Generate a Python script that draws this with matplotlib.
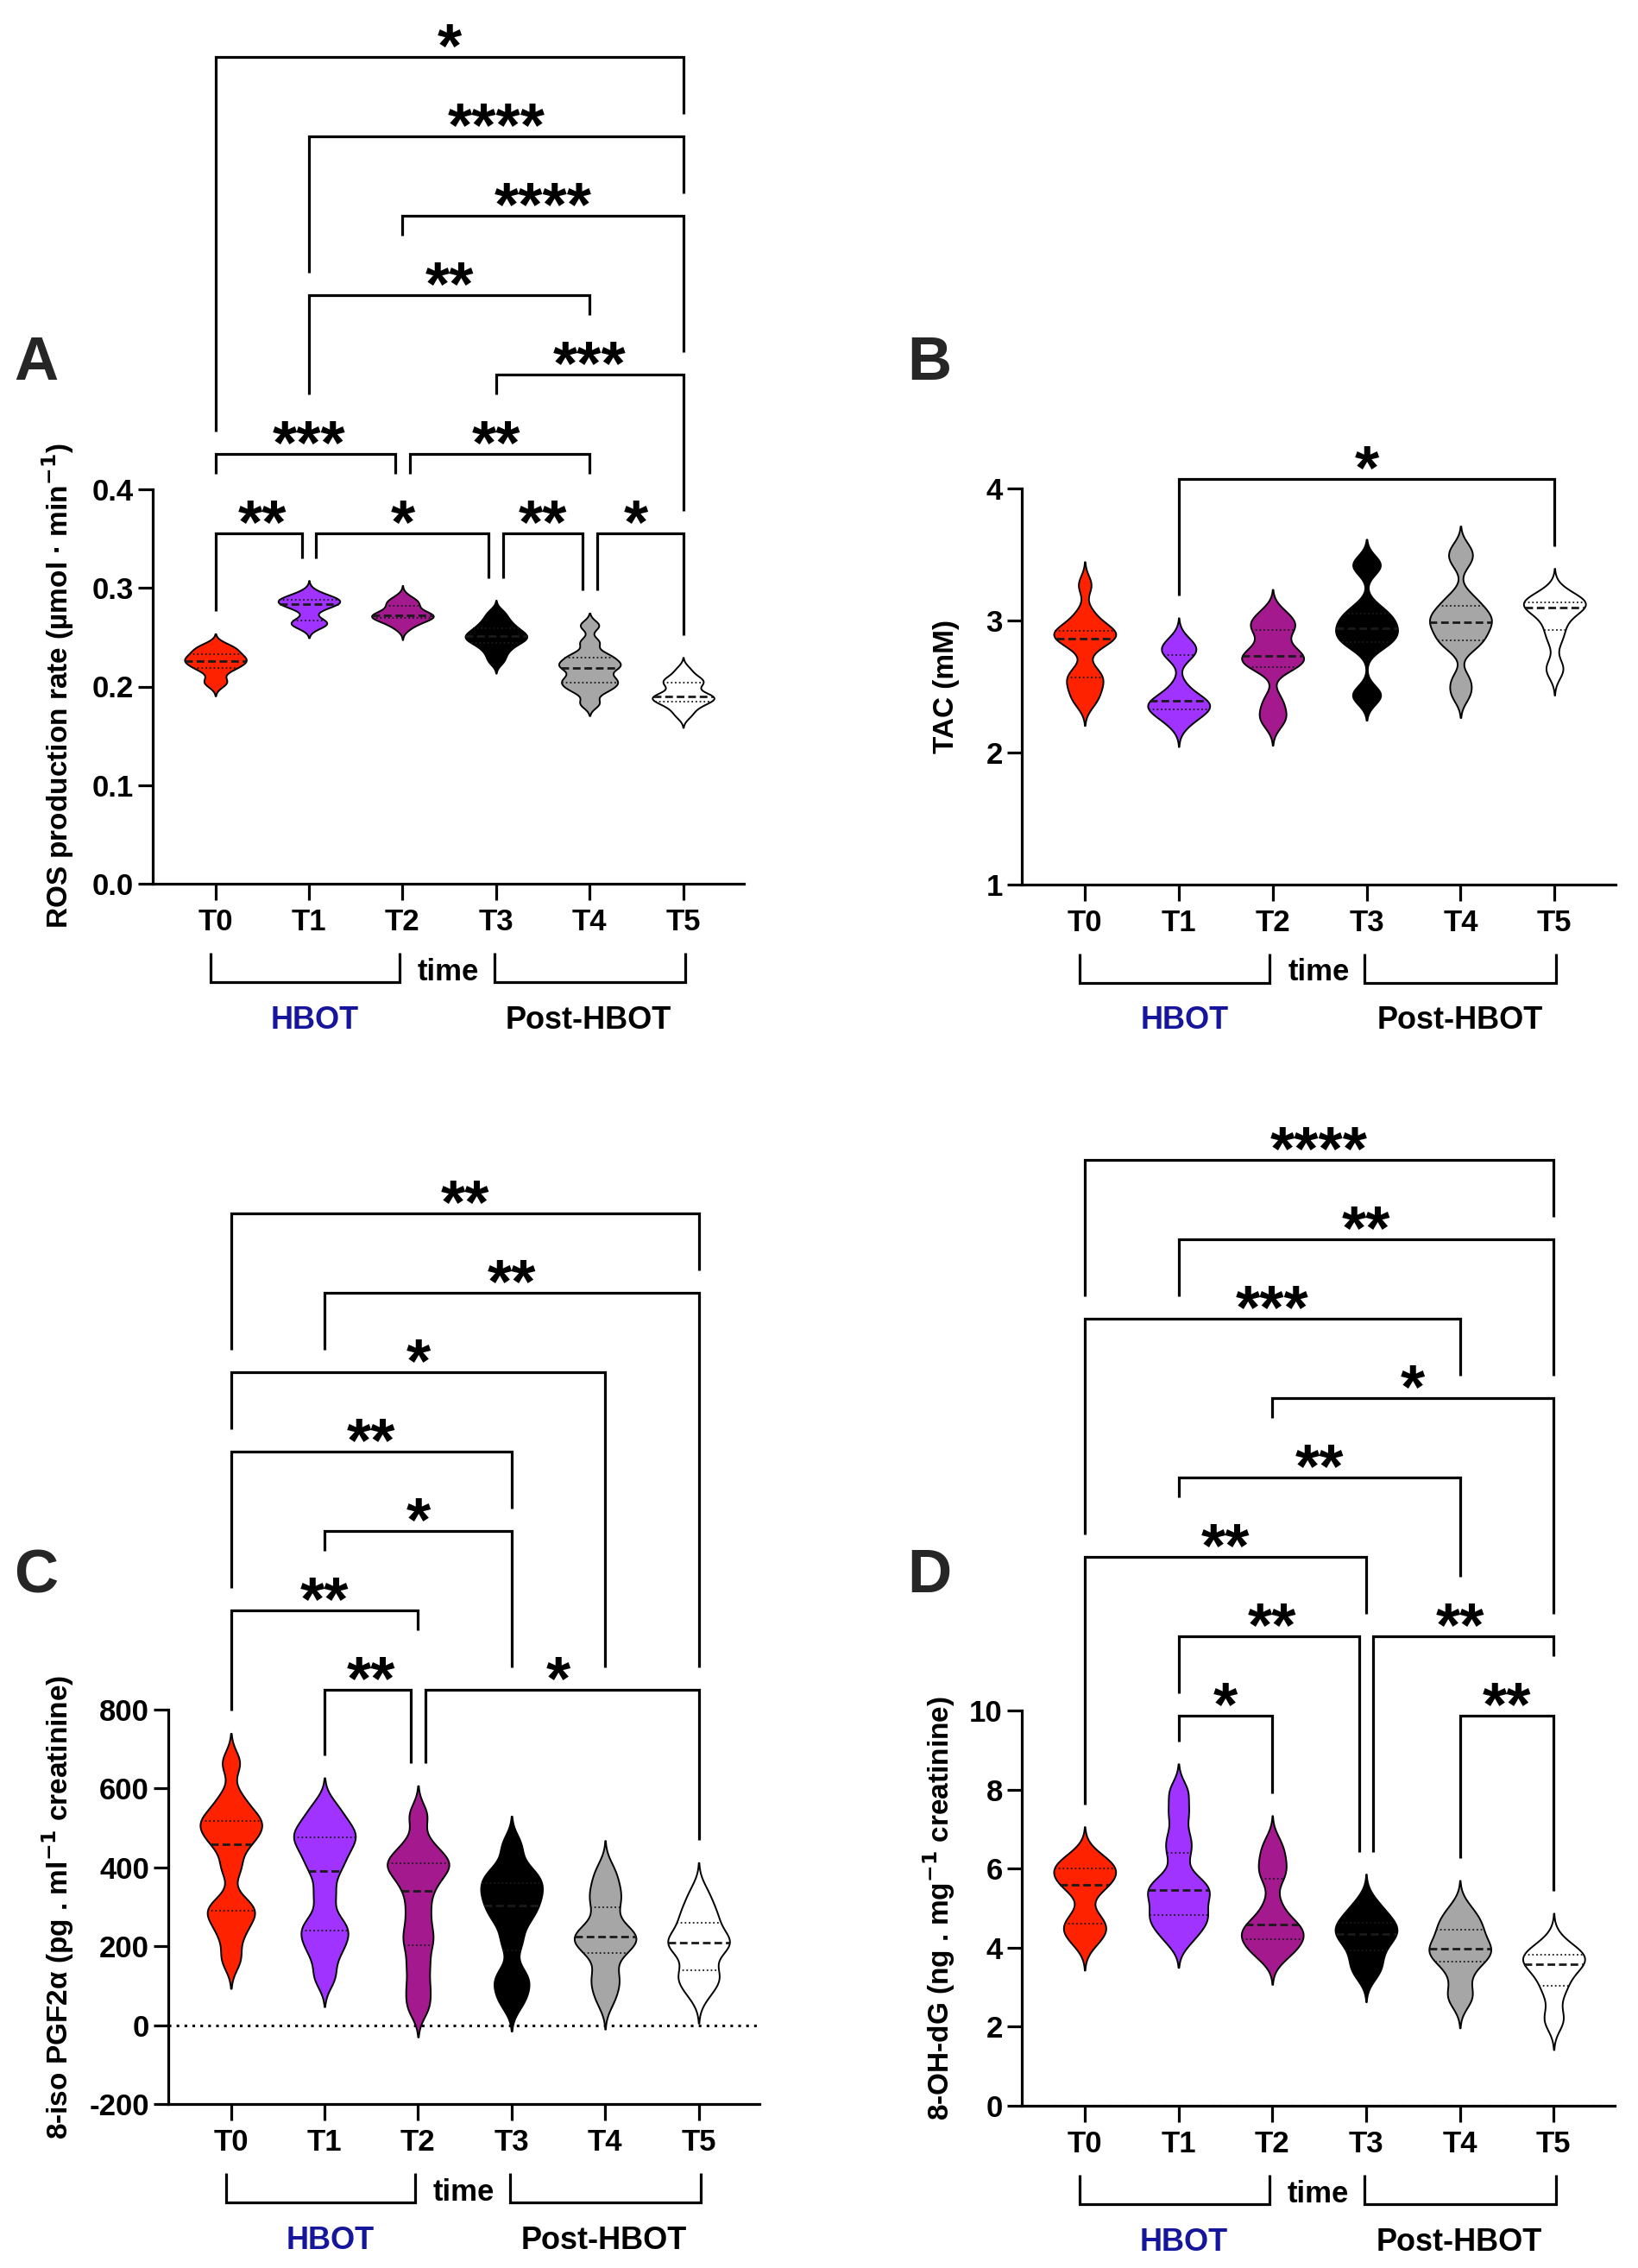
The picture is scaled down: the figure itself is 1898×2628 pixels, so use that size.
import numpy as np
import matplotlib.pyplot as plt
from matplotlib.ticker import FormatStrFormatter
from matplotlib.transforms import blended_transform_factory

plt.rcParams['font.family'] = ['Liberation Sans', 'DejaVu Sans']
plt.rcParams['font.weight'] = 'bold'

W, H = 1899, 2628

groups = ['T0', 'T1', 'T2', 'T3', 'T4', 'T5']
colors = ['#ff2200', '#a033ff', '#a5198f', '#000000', '#a6a6a6', '#ffffff']

# A: ROS production rate (umol . min-1), one list per time point
ros = [
    [0.203, 0.206, 0.216, 0.219, 0.222, 0.225, 0.226, 0.228, 0.230, 0.233, 0.236, 0.240, 0.241],
    [0.262, 0.263, 0.265, 0.267, 0.278, 0.282, 0.284, 0.285, 0.286, 0.288, 0.289, 0.291, 0.295],
    [0.260, 0.264, 0.268, 0.270, 0.271, 0.272, 0.272, 0.273, 0.275, 0.282, 0.284, 0.286, 0.290],
    [0.226, 0.234, 0.240, 0.244, 0.247, 0.249, 0.251, 0.253, 0.256, 0.259, 0.263, 0.268, 0.275],
    [0.183, 0.195, 0.200, 0.204, 0.207, 0.212, 0.219, 0.221, 0.224, 0.229, 0.233, 0.245, 0.262],
    [0.171, 0.178, 0.183, 0.185, 0.188, 0.190, 0.190, 0.192, 0.200, 0.204, 0.206, 0.209, 0.217],
]
# B: TAC (mM)
tac = [
    [2.38, 2.45, 2.52, 2.57, 2.62, 2.80, 2.86, 2.88, 2.90, 2.92, 2.96, 3.05, 3.27],
    [2.22, 2.28, 2.31, 2.33, 2.36, 2.38, 2.39, 2.41, 2.50, 2.74, 2.76, 2.80, 2.845],
    [2.23, 2.30, 2.40, 2.65, 2.67, 2.70, 2.73, 2.76, 2.82, 2.93, 2.95, 3.00, 3.06],
    [2.42, 2.45, 2.80, 2.85, 2.88, 2.92, 2.96, 3.00, 3.04, 3.10, 3.40, 3.44],
    [2.44, 2.55, 2.80, 2.85, 2.90, 2.95, 2.99, 3.02, 3.06, 3.11, 3.18, 3.45, 3.54],
    [2.61, 2.66, 2.85, 2.93, 3.00, 3.06, 3.10, 3.11, 3.12, 3.14, 3.15, 3.17, 3.22],
]
# C: 8-iso PGF2a (pg . ml-1 creatinine)
iso = [
    [168, 230, 270, 290, 310, 400, 458, 480, 505, 517, 535, 575, 665],
    [122, 180, 215, 240, 265, 330, 391, 425, 455, 476, 490, 515, 552],
    [45, 95, 150, 203, 240, 290, 340, 375, 400, 411, 425, 460, 532],
    [60, 100, 130, 210, 265, 290, 315, 335, 355, 375, 395, 455],
    [65, 105, 130, 182, 200, 215, 225, 232, 250, 300, 325, 355, 393],
    [80, 110, 125, 139, 185, 200, 209, 215, 225, 259, 275, 300, 337],
]
# D: 8-OH-dG (ng . mg-1 creatinine)
ohdg = [
    [4.13, 4.35, 4.50, 4.61, 4.85, 5.45, 5.60, 5.72, 5.85, 6.00, 6.05, 6.15, 6.36],
    [4.20, 4.50, 4.70, 4.82, 5.05, 5.30, 5.45, 5.55, 5.80, 6.39, 6.80, 7.40, 7.95],
    [3.77, 3.95, 4.10, 4.22, 4.35, 4.45, 4.58, 4.70, 5.10, 5.75, 6.00, 6.30, 6.64],
    [3.33, 3.50, 3.75, 4.00, 4.20, 4.30, 4.40, 4.50, 4.60, 4.75, 4.90, 5.16],
    [2.67, 2.85, 3.30, 3.64, 3.75, 3.85, 3.98, 4.05, 4.20, 4.46, 4.55, 4.75, 5.00],
    [2.12, 2.25, 2.80, 3.03, 3.25, 3.45, 3.58, 3.65, 3.70, 3.82, 3.86, 3.92, 4.17],
]

# comparisons: (group a, group b, stars, bracket row)
ros_sig = [(0, 1, '**', 0), (1, 3, '*', 0), (3, 4, '**', 0), (4, 5, '*', 0),
           (0, 2, '***', 1), (2, 4, '**', 1), (3, 5, '***', 2), (1, 4, '**', 3),
           (2, 5, '****', 4), (1, 5, '****', 5), (0, 5, '*', 6)]
tac_sig = [(1, 5, '*', 0)]
iso_sig = [(1, 2, '**', 0), (2, 5, '*', 0), (0, 2, '**', 1), (1, 3, '*', 2),
           (0, 3, '**', 3), (0, 4, '*', 4), (1, 5, '**', 5), (0, 5, '**', 6)]
ohdg_sig = [(1, 2, '*', 0), (4, 5, '**', 0), (1, 3, '**', 1), (3, 5, '**', 1),
            (0, 3, '**', 2), (1, 4, '**', 3), (2, 5, '*', 4), (0, 4, '***', 5),
            (1, 5, '**', 6), (0, 5, '****', 7)]

panels = [
    dict(data=ros, sig=ros_sig, box=(177, 567, 862, 1024), ylim=(0, 0.4),
         yticks=[0, 0.1, 0.2, 0.3, 0.4], fmt='%.1f', bw=0.005, base=0.355,
         ylabel='ROS production rate (µmol · min$^{-1}$)', lab_xy=(67, 795),
         letter='A', let_xy=(42, 440), zero=False),
    dict(data=tac, sig=tac_sig, box=(1184, 566, 1872, 1025), ylim=(1, 4),
         yticks=[1, 2, 3, 4], fmt='%d', bw=0.07, base=4.07,
         ylabel='TAC (mM)', lab_xy=(1097, 796),
         letter='B', let_xy=(1077, 440), zero=False),
    dict(data=iso, sig=iso_sig, box=(195, 1981, 880, 2438), ylim=(-200, 800),
         yticks=[-200, 0, 200, 400, 600, 800], fmt='%d', bw=30, base=850,
         ylabel='8-iso PGF2α (pg . ml$^{-1}$ creatinine)', lab_xy=(67, 2210),
         letter='C', let_xy=(42, 1845), zero=True),
    dict(data=ohdg, sig=ohdg_sig, box=(1184, 1982, 1871, 2440), ylim=(0, 10),
         yticks=[0, 2, 4, 6, 8, 10], fmt='%d', bw=0.28, base=9.87,
         ylabel='8-OH-dG (ng . mg$^{-1}$ creatinine)', lab_xy=(1088, 2211),
         letter='D', let_xy=(1077, 1845), zero=True),
]

XLIM = (-0.67, 5.65)


def draw_violin(ax, x, vals, h, color, half=0.33):
    v = np.asarray(vals, float)
    ys = np.linspace(v.min() - 2.5 * h, v.max() + 2.5 * h, 600)
    d = np.exp(-0.5 * ((ys[:, None] - v[None, :]) / h) ** 2).sum(axis=1)
    w = d / d.max() * half
    ax.fill_betweenx(ys, x - w, x + w, facecolor=color, edgecolor='black',
                     linewidth=1.4, zorder=3)
    q1, med, q3 = np.percentile(v, [25, 50, 75])
    for q, ls, lw in [(q1, (0, (1, 1.6)), 1.3), (q3, (0, (1, 1.6)), 1.3),
                      (med, (0, (3.2, 1.6)), 2.0)]:
        wq = np.interp(q, ys, w)
        ax.plot([x - wq, x + wq], [q, q], color='#1a1a1a', linestyle=ls,
                linewidth=lw, zorder=4)
    return ys[-1]


def draw_brackets(ax, sig, tops, base, ypx, xpx):
    # ypx / xpx: data units per pixel
    step = 92 * ypx
    gap = 26 * ypx
    txt_h = 43 * ypx
    ins = 8.4 * xpx

    def floor(g, lev):
        best = tops[g]
        for a2, b2, lab2, lev2 in sig:
            if lev2 < lev and a2 <= g <= b2:
                y2 = base + lev2 * step
                half_txt = (len(lab2) * 27 / 2 + 35) * xpx
                if abs(g - (a2 + b2) / 2) < half_txt:
                    y2 += txt_h
                best = max(best, y2)
        return best + gap

    for a, b, lab, lev in sig:
        y = base + lev * step
        xa, xb = a, b
        for a2, b2, _, lev2 in sig:
            if lev2 == lev and b2 == a:
                xa = a + ins
            if lev2 == lev and a2 == b:
                xb = b - ins
        ax.plot([xa, xa, xb, xb], [floor(a, lev), y, y, floor(b, lev)],
                color='black', lw=2.3, clip_on=False,
                solid_joinstyle='miter', solid_capstyle='butt', zorder=5)
        ax.annotate(lab, xy=((a + b) / 2, y), xytext=(0, -8),
                    textcoords='offset points', ha='center', va='baseline',
                    fontsize=52, fontweight='bold', annotation_clip=False)


def draw_time(ax, h_px):
    tr = blended_transform_factory(ax.transData, ax.transAxes)
    f = lambda px: -px / h_px
    for x0, x1 in [(-0.05, 1.97), (2.98, 5.02)]:
        ax.plot([x0, x0, x1, x1], [f(80), f(114), f(114), f(80)], transform=tr,
                color='black', lw=2.3, clip_on=False, solid_joinstyle='miter',
                solid_capstyle='butt')
    ax.text(2.49, f(102), 'time', transform=tr, ha='center', va='center',
            fontsize=25)
    ax.text(1.06, f(158), 'HBOT', transform=tr, ha='center', va='center',
            fontsize=26, color='#16169c')
    ax.text(3.99, f(158), 'Post-HBOT', transform=tr, ha='center', va='center',
            fontsize=26)


fig = plt.figure(figsize=(W / 100, H / 100), dpi=100)

for p in panels:
    l, t, r, b = p['box']
    ax = fig.add_axes([l / W, 1 - b / H, (r - l) / W, (b - t) / H])
    ax.set_xlim(*XLIM)
    ax.set_ylim(*p['ylim'])
    for side in ['top', 'right']:
        ax.spines[side].set_visible(False)
    for side in ['left', 'bottom']:
        ax.spines[side].set_linewidth(2.3)
    ax.set_xticks(range(len(groups)))
    ax.set_xticklabels(groups)
    ax.set_yticks(p['yticks'])
    ax.yaxis.set_major_formatter(FormatStrFormatter(p['fmt']))
    ax.tick_params(axis='y', length=12, width=2.3, labelsize=25, pad=4)
    ax.tick_params(axis='x', length=14, width=2.3, labelsize=25, pad=6)

    if p['zero']:
        ax.axhline(0, color='black', linestyle=(0, (1, 2)), linewidth=2.2, zorder=2)

    tops = []
    for i, vals in enumerate(p['data']):
        tops.append(draw_violin(ax, i, vals, p['bw'], colors[i]))

    ypx = (p['ylim'][1] - p['ylim'][0]) / (b - t)
    xpx = (XLIM[1] - XLIM[0]) / (r - l)
    draw_brackets(ax, p['sig'], tops, p['base'], ypx, xpx)
    draw_time(ax, b - t)

    fig.text(p['lab_xy'][0] / W, 1 - p['lab_xy'][1] / H, p['ylabel'],
             rotation=90, ha='center', va='center', fontsize=24)
    fig.text(p['let_xy'][0] / W, 1 - p['let_xy'][1] / H, p['letter'],
             ha='center', va='baseline', fontsize=51, color='#262626')

fig.savefig('out.png', dpi=100)
